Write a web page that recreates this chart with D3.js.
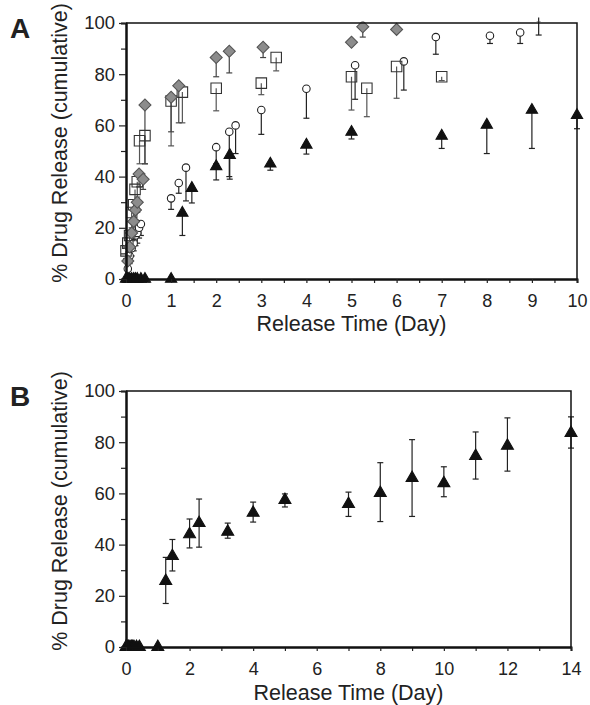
<!DOCTYPE html>
<html>
<head>
<meta charset="utf-8">
<script src="https://cdn.jsdelivr.net/npm/d3@7"></script>
<style>
  body { margin: 0; background: #fff; }
  text { font-family: "Liberation Sans", Arial, sans-serif; fill: #222; }
</style>
</head>
<body>
<script>
// ---- panel A data: day, % released, lower end of error bar ----
var diamondDays = [0.04, 0.08, 0.125, 0.17, 0.21, 0.25, 0.29, 0.38, 0.42, 1.0, 1.17, 2.0, 2.29, 3.04, 5.0, 5.25, 6.0];
var diamondVals = [7, 12.5, 18, 22.5, 27, 30, 41, 39, 68, 71, 75.5, 86.5, 89, 90.5, 92.5, 98.5, 97.5];
var diamondLows = [5, 10, 15, 19, 23, 26, 36, 35, 45, 57.5, 61, 79, 80.5, 86.5, 92.5, 94.5, 97.5];

var squareDays = [0.0, 0.04, 0.08, 0.125, 0.17, 0.2, 0.25, 0.3, 0.42, 1.0, 1.25, 2.0, 3.0, 3.33, 5.0, 5.34, 6.0, 7.0];
var squareVals = [11, 14, 17, 26, 29, 35, 38, 54, 56, 69.5, 73, 74.5, 76.5, 86.5, 79, 74.5, 83, 79];
var squareLows = [8, 10, 13, 20, 24, 28, 32, 45, 45, 52, 61, 65.7, 72, 81.3, 66, 63.4, 70.6, 77.5];

var circleDays = [0.04, 0.08, 0.125, 0.17, 0.21, 0.25, 0.29, 0.33, 1.0, 1.17, 1.33, 2.0, 2.29, 2.43, 3.0, 4.0, 5.08, 6.16, 6.87, 8.07, 8.74, 9.15];
var circleVals = [4, 9, 12, 14, 17, 18, 20, 21.5, 31.5, 37.5, 43.5, 51.5, 57.5, 60, 66, 74.3, 83.5, 85, 94.5, 95, 96.3, 102.1];
var circleLows = [2, 6, 9, 11, 13, 14, 16, 17, 27.2, 33.5, 30.5, 45, 40, 49, 56.5, 62.8, 70.2, 73.8, 87.8, 92, 92, 95.3];

// triangles (same formulation in A and B)
var triDays  = [0, 0.04, 0.08, 0.125, 0.17, 0.21, 0.25, 0.33, 0.42, 1.0, 1.25, 1.46, 2.0, 2.3, 3.2, 4.0, 5.0, 7.0, 8.0, 9.0, 10.0, 11.0, 12.0, 14.0];
var triVals  = [0, 0, 0, 0, 0, 0, 0, 0, 0, 0, 25.8, 35.5, 44, 48.4, 45, 52.4, 57.4, 55.9, 60.2, 66, 64, 74.6, 78.6, 83.6];
var triLows  = [0, 0, 0, 0, 0, 0, 0, 0, 0, 0, 17, 29.7, 38.7, 39, 42.5, 48.8, 54.7, 51, 49, 51, 58.7, 65.6, 68.7, 77.7];
var triHighs = [0, 0, 0, 0, 0, 0, 0, 0, 0, 0, 35, 42, 50, 57.8, 48.4, 56.6, 59.8, 60.5, 72, 81, 70.4, 84, 89.5, 89.9];

var yTicks = [0, 20, 40, 60, 80, 100];
var yMinor = [10, 30, 50, 70, 90];
var aTicks = [0, 1, 2, 3, 4, 5, 6, 7, 8, 9, 10];
var bTicks = [0, 2, 4, 6, 8, 10, 12, 14];

function zip(days, vals, lows, highs) {
  return days.map(function(d, i) {
    return { day: d, val: vals[i], low: lows[i], high: highs ? highs[i] : vals[i] };
  });
}

var svg = d3.select("body").append("svg")
  .attr("width", 590)
  .attr("height", 705);

function frame(x, y, xTicks, xMinor, label, labelY, titleY) {
  var x0 = x.range()[0], x1 = x.range()[1], y0 = y.range()[0], y1 = y.range()[1];

  // minor ticks first
  svg.append("g").attr("class", "axis")
    .attr("transform", "translate(" + x0 + ",0)")
    .call(d3.axisLeft(y).tickValues(yMinor).tickSize(5).tickFormat(""));
  svg.append("g").attr("class", "axis")
    .attr("transform", "translate(0," + y0 + ")")
    .call(d3.axisBottom(x).tickValues(xMinor).tickSize(4).tickFormat(""));

  svg.append("g").attr("class", "axis")
    .attr("transform", "translate(" + x0 + ",0)")
    .call(d3.axisLeft(y).tickValues(yTicks).tickSize(7).tickSizeOuter(0).tickPadding(4))
    .selectAll("text").style("font-size", "18.5px");
  svg.append("g").attr("class", "axis")
    .attr("transform", "translate(0," + y0 + ")")
    .call(d3.axisBottom(x).tickValues(xTicks).tickSize(4).tickSizeOuter(0).tickPadding(11))
    .selectAll("text").style("font-size", "18px");

  svg.selectAll(".axis path").attr("stroke", "#111").attr("stroke-width", 2);
  svg.selectAll(".axis line").attr("stroke", "#222").attr("stroke-width", 1.2);

  // top + right border
  svg.append("path")
    .attr("d", "M" + x0 + "," + y1 + "H" + x1 + "V" + y0)
    .attr("fill", "none").attr("stroke", "#111").attr("stroke-width", 1.5);

  svg.append("text")
    .attr("x", 10).attr("y", labelY)
    .style("font-size", "28px").style("font-weight", "bold")
    .text(label);

  svg.append("text")
    .attr("transform", "translate(67," + ((y0 + y1) / 2 - 8) + ") rotate(-90)")
    .attr("text-anchor", "middle")
    .style("font-size", "21.5px")
    .text("% Drug Release (cumulative)");

  svg.append("text")
    .attr("x", (x0 + x1) / 2).attr("y", titleY)
    .attr("text-anchor", "middle")
    .style("font-size", "21.5px")
    .text("Release Time (Day)");
}

function errorBars(g, data, x, y, color) {
  var cap = 3;
  var bars = g.append("g").selectAll("g").data(data).enter().append("g")
    .attr("stroke", color).attr("stroke-width", 1.2);
  bars.append("line")
    .attr("x1", function(d) { return x(d.day); })
    .attr("x2", function(d) { return x(d.day); })
    .attr("y1", function(d) { return y(d.high); })
    .attr("y2", function(d) { return y(d.low); });
  bars.filter(function(d) { return d.low < d.val; }).append("line")
    .attr("x1", function(d) { return x(d.day) - cap; })
    .attr("x2", function(d) { return x(d.day) + cap; })
    .attr("y1", function(d) { return y(d.low); })
    .attr("y2", function(d) { return y(d.low); });
  bars.filter(function(d) { return d.high > d.val; }).append("line")
    .attr("x1", function(d) { return x(d.day) - cap; })
    .attr("x2", function(d) { return x(d.day) + cap; })
    .attr("y1", function(d) { return y(d.high); })
    .attr("y2", function(d) { return y(d.high); });
}

function markers(g, data, x, y, type, size, fill, stroke, rot) {
  g.append("g").selectAll("path").data(data).enter().append("path")
    .attr("d", d3.symbol().type(type).size(size))
    .attr("transform", function(d) {
      return "translate(" + x(d.day) + "," + y(d.val) + ")" + (rot ? " rotate(" + rot + ")" : "");
    })
    .attr("fill", fill)
    .attr("stroke", stroke)
    .attr("stroke-width", 1.1);
}

// ---------------- panel A ----------------
var ax = d3.scaleLinear().domain([0, 10]).range([126, 577]);
var ay = d3.scaleLinear().domain([0, 100]).range([279, 23]);

svg.append("clipPath").attr("id", "clipA")
  .append("rect").attr("x", 100).attr("y", 21.5).attr("width", 490).attr("height", 290);

var gA = svg.append("g");
var gAm = svg.append("g").attr("clip-path", "url(#clipA)");

var dia = zip(diamondDays, diamondVals, diamondLows);
var sq = zip(squareDays, squareVals, squareLows);
var cir = zip(circleDays, circleVals, circleLows);
var triA = zip(triDays, triVals, triLows).filter(function(d) { return d.day <= 10; });

errorBars(gA, triA, ax, ay, "#222");
errorBars(gA, cir, ax, ay, "#222");
errorBars(gA, sq, ax, ay, "#555");
errorBars(gA, dia, ax, ay, "#444");

markers(gAm, triA, ax, ay, d3.symbolTriangle, 55, "#111", "#111");
markers(gAm, cir, ax, ay, d3.symbolCircle, 44, "#fff", "#222");
markers(gAm, sq, ax, ay, d3.symbolSquare, 110, "none", "#333");
markers(gAm, dia, ax, ay, d3.symbolSquare, 72, "#8c8c8c", "#555", 45);

frame(ax, ay, aTicks, d3.range(0.5, 10, 1), "A", 38, 331);

// ---------------- panel B ----------------
var bx = d3.scaleLinear().domain([0, 14]).range([126, 571]);
var by = d3.scaleLinear().domain([0, 100]).range([647, 391]);

var gB = svg.append("g");
var triB = zip(triDays, triVals, triLows, triHighs);
errorBars(gB, triB, bx, by, "#222");
markers(gB, triB, bx, by, d3.symbolTriangle, 62, "#111", "#111");

frame(bx, by, bTicks, d3.range(1, 14, 2), "B", 406, 700);
</script>
</body>
</html>
